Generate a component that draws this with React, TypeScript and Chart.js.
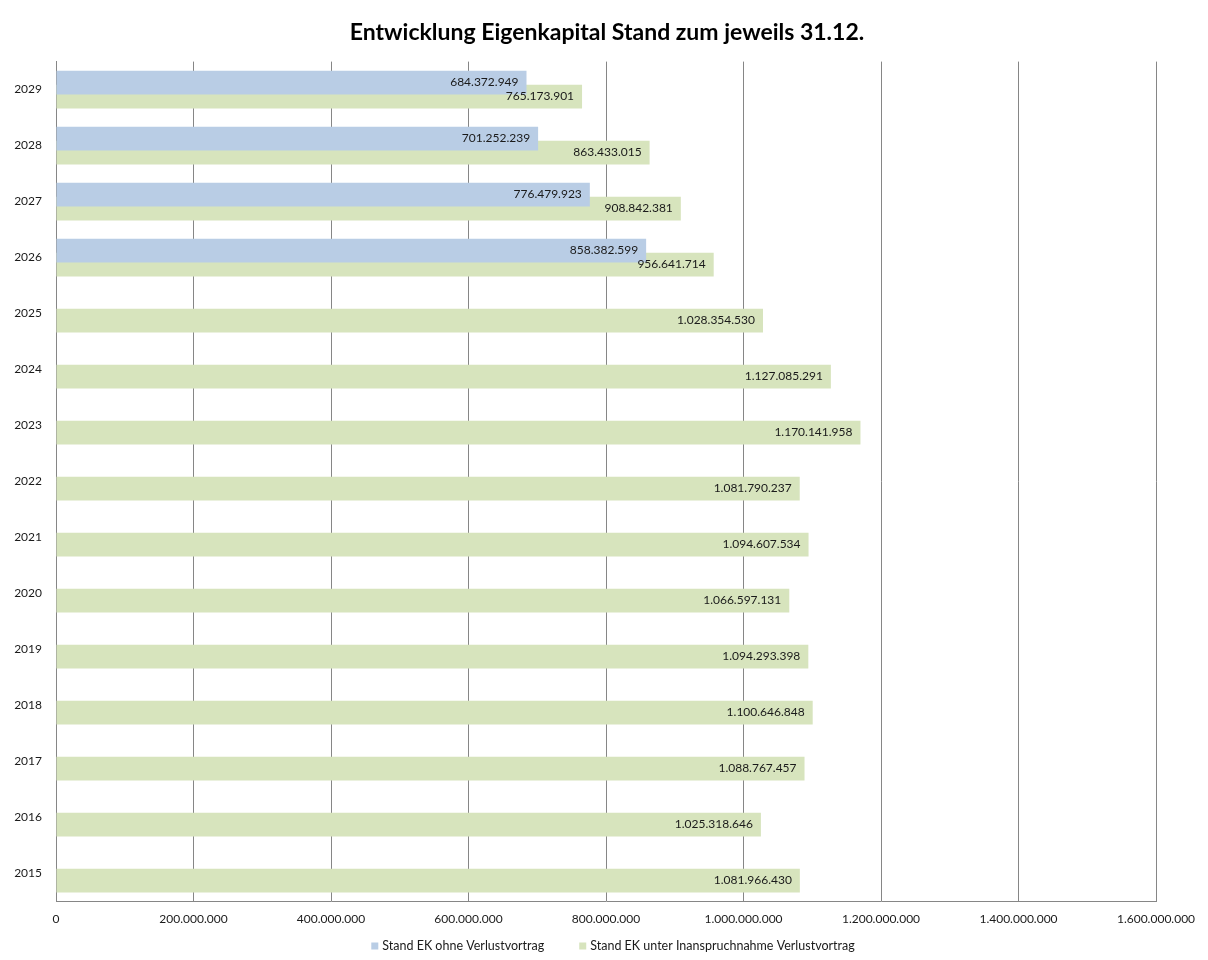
import React, { useEffect, useRef } from "react";
import { Chart, registerables } from "chart.js";

Chart.register(...registerables);

const titleText = "Entwicklung Eigenkapital Stand zum jeweils 31.12.";
const years = ["2029", "2028", "2027", "2026", "2025", "2024", "2023", "2022", "2021", "2020", "2019", "2018", "2017", "2016", "2015"];
const seriesNames = ["Stand EK ohne Verlustvortrag", "Stand EK unter Inanspruchnahme Verlustvortrag"];
const seriesColors = ["#B9CDE5", "#D7E4BD"];
const ohneVerlustvortrag: (number | null)[] = [684372949, 701252239, 776479923, 858382599, null, null, null, null, null, null, null, null, null, null, null];
const unterInanspruchnahme: number[] = [765173901, 863433015, 908842381, 956641714, 1028354530, 1127085291, 1170141958, 1081790237, 1094607534, 1066597131, 1094293398, 1100646848, 1088767457, 1025318646, 1081966430];
const xMax = 1600000000;
const xStep = 200000000;

const FONT = "Lato, Carlito, Calibri, 'Noto Sans', sans-serif";

const fmt = (v: number) => String(Math.round(v)).replace(/\B(?=(\d{3})+(?!\d))/g, ".");

const valueLabels = {
  id: "valueLabels",
  afterDatasetsDraw(chart: any) {
    const ctx = chart.ctx;
    ctx.save();
    ctx.font = `12px ${FONT}`;
    ctx.fillStyle = "#1a1a1a";
    ctx.textAlign = "right";
    ctx.textBaseline = "middle";
    chart.data.datasets.forEach((ds: any, di: number) => {
      const meta = chart.getDatasetMeta(di);
      meta.data.forEach((el: any, i: number) => {
        const v = ds.data[i];
        if (v == null) return;
        ctx.fillText(fmt(v), el.x - 8, el.y);
      });
    });
    ctx.restore();
  },
};

const bottomLegend = {
  id: "bottomLegend",
  afterDraw(chart: any) {
    const ctx = chart.ctx;
    ctx.save();
    ctx.font = `12.5px ${FONT}`;
    ctx.textBaseline = "middle";
    ctx.textAlign = "left";
    const box = 7;
    const boxGap = 4;
    const itemGap = 35;
    const widths = seriesNames.map((n) => ctx.measureText(n).width);
    const total = widths.reduce((a, w) => a + box + boxGap + w, 0) + itemGap * (seriesNames.length - 1);
    let x = 613 - total / 2;
    const y = chart.height - 14;
    seriesNames.forEach((name, i) => {
      ctx.fillStyle = seriesColors[i];
      ctx.fillRect(x, y - box / 2, box, box);
      x += box + boxGap;
      ctx.fillStyle = "#1a1a1a";
      ctx.fillText(name, x, y);
      x += widths[i] + itemGap;
    });
    ctx.restore();
  },
};

export default function App() {
  const ref = useRef<HTMLCanvasElement>(null);
  useEffect(() => {
    if (!ref.current) return;
    const chart = new Chart(ref.current, {
      type: "bar",
      data: {
        labels: years,
        datasets: [
          {
            label: seriesNames[0],
            data: ohneVerlustvortrag,
            backgroundColor: seriesColors[0],
            borderWidth: 0,
            categoryPercentage: 0.5,
            barPercentage: 1.7,
          },
          {
            label: seriesNames[1],
            data: unterInanspruchnahme,
            backgroundColor: seriesColors[1],
            borderWidth: 0,
            categoryPercentage: 0.5,
            barPercentage: 1.7,
          },
        ],
      },
      options: {
        indexAxis: "y",
        animation: false,
        responsive: false,
        maintainAspectRatio: false,
        layout: { padding: { left: 6, right: 0, top: 0, bottom: 24 } },
        scales: {
          x: {
            min: 0,
            max: xMax,
            ticks: {
              stepSize: xStep,
              padding: 10,
              color: "#1a1a1a",
              font: { family: FONT, size: 12 },
              callback: (v: any) => fmt(Number(v)),
              maxRotation: 0,
            },
            grid: { color: "#868686", drawTicks: false, lineWidth: 1 },
            border: { color: "#868686" },
            afterFit: (s: any) => {
              s.paddingRight = 52;
            },
          },
          y: {
            ticks: {
              padding: 14,
              color: "#1a1a1a",
              font: { family: FONT, size: 12 },
            },
            grid: { display: false, drawTicks: false },
            border: { color: "#868686" },
            afterFit: (s: any) => {
              s.width = 50;
            },
          },
        },
        plugins: {
          title: {
            display: true,
            text: titleText,
            color: "#000",
            font: { family: FONT, size: 23, weight: "bold" },
            padding: { top: 19, bottom: 15 },
          },
          legend: { display: false },
          tooltip: { enabled: false },
        },
      },
      plugins: [valueLabels, bottomLegend],
    });
    return () => chart.destroy();
  }, []);
  return (
    <div style={{ position: "fixed", left: 0, top: 0, width: 1208, height: 960, background: "#fff" }}>
      <canvas ref={ref} width={1208} height={960} style={{ width: 1208, height: 960, display: "block" }} />
    </div>
  );
}
